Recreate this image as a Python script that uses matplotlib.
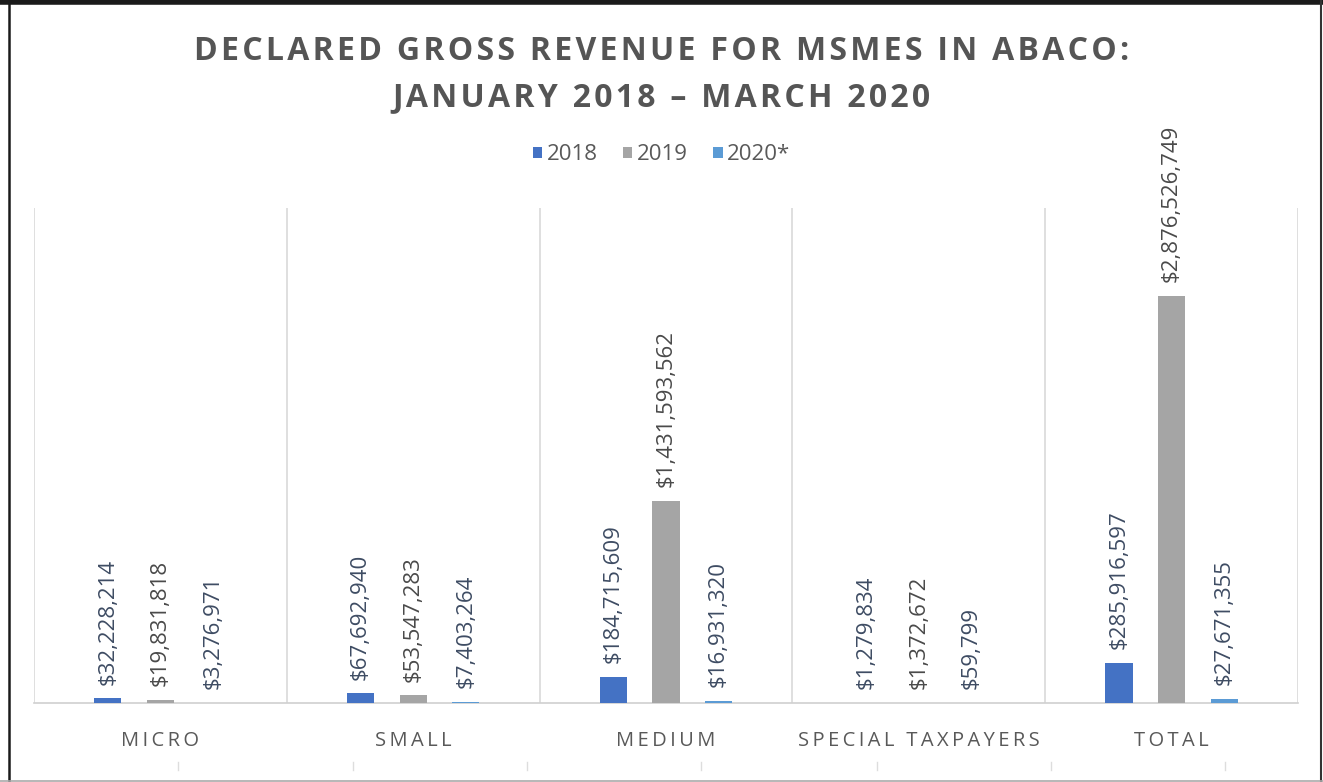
import matplotlib.pyplot as plt
import numpy as np
from matplotlib.lines import Line2D
from matplotlib.patches import Patch

categories = ["MICRO", "SMALL", "MEDIUM", "SPECIAL TAXPAYERS", "TOTAL"]
years = ["2018", "2019", "2020*"]
rev_2018 = [32228214, 67692940, 184715609, 1279834, 285916597]
rev_2019 = [19831818, 53547283, 1431593562, 1372672, 2876526749]
rev_2020 = [3276971, 7403264, 16931320, 59799, 27671355]

colors = ["#4472C4", "#A5A5A5", "#5B9BD5"]
label_colors = ["#3E4C63", "#4a4a4a", "#3E4C63"]
FONT = ["Open Sans", "DejaVu Sans"]


def spaced(s, sep="\u2009"):
    # fake letter spacing
    return sep.join(s)


fig = plt.figure(figsize=(13.23, 7.82), dpi=100)
ax = fig.add_axes([34 / 1323, 79 / 782, (1298 - 34) / 1323, (703 - 208) / 782])

x = np.arange(len(categories))
width = 0.107
offset = 0.208
series = [rev_2018, rev_2019, rev_2020]

for i, vals in enumerate(series):
    pos = x + (i - 1) * offset
    bars = ax.bar(pos, vals, width=width, color=colors[i], zorder=3)
    for b, v in zip(bars, vals):
        ax.annotate(
            f"${v:,}",
            (b.get_x() + b.get_width() / 2, b.get_height()),
            xytext=(0, 10),
            textcoords="offset points",
            rotation=90,
            ha="center",
            va="bottom",
            fontsize=16,
            family=FONT,
            color=label_colors[i],
        )

ax.set_xlim(-0.5, len(categories) - 0.5)
ax.set_ylim(0, 3.5e9)
ax.set_yticks([])
ax.set_xticks(x)
ax.set_xticklabels([spaced(c) for c in categories], family=FONT, fontsize=14.5, color="#595959")
ax.tick_params(axis="x", length=0, pad=20)

for b in np.arange(-0.5, len(categories), 1.0):
    ax.axvline(b, color="#d9d9d9", lw=1.2, zorder=1)

for side in ["top", "left", "right"]:
    ax.spines[side].set_visible(False)
ax.spines["bottom"].set_color("#d0d0d0")
ax.spines["bottom"].set_linewidth(1.2)

fig.text(
    0.5, 1 - 52 / 782, spaced("DECLARED GROSS REVENUE FOR MSMES IN ABACO:", "\u200a"),
    ha="center", va="center", fontsize=23, fontweight="bold", color="#555555", family=FONT,
)
fig.text(
    0.5, 1 - 98 / 782, spaced("JANUARY 2018 \u2013 MARCH 2020", "\u200a"),
    ha="center", va="center", fontsize=23, fontweight="bold", color="#555555", family=FONT,
)

handles = [Patch(facecolor=c) for c in colors]
fig.legend(
    handles, years, loc="center", bbox_to_anchor=(0.5, 1 - 155 / 782), ncol=3,
    frameon=False, prop={"family": FONT, "size": 16}, handlelength=0.42, handleheight=0.42,
    handletextpad=0.2, columnspacing=1.15, labelcolor="#595959",
)

# faint tick marks under the category labels
for px in [178, 353, 527, 701, 877, 1051, 1225]:
    fig.add_artist(Line2D([px / 1323] * 2, [1 - 762 / 782, 1 - 770 / 782], color="#dddddd", lw=1))

# frame around the image
fig.add_artist(Line2D([0, 1], [1 - 2 / 782] * 2, color="#1a1a1a", lw=4))
fig.add_artist(Line2D([9 / 1323] * 2, [0, 1], color="#1a1a1a", lw=1.8))
fig.add_artist(Line2D([1321 / 1323] * 2, [0, 1], color="#333333", lw=1.5))
fig.add_artist(Line2D([0, 1], [1 / 782] * 2, color="#aaaaaa", lw=1.2))

fig.savefig("out.png", dpi=100, facecolor="white")
